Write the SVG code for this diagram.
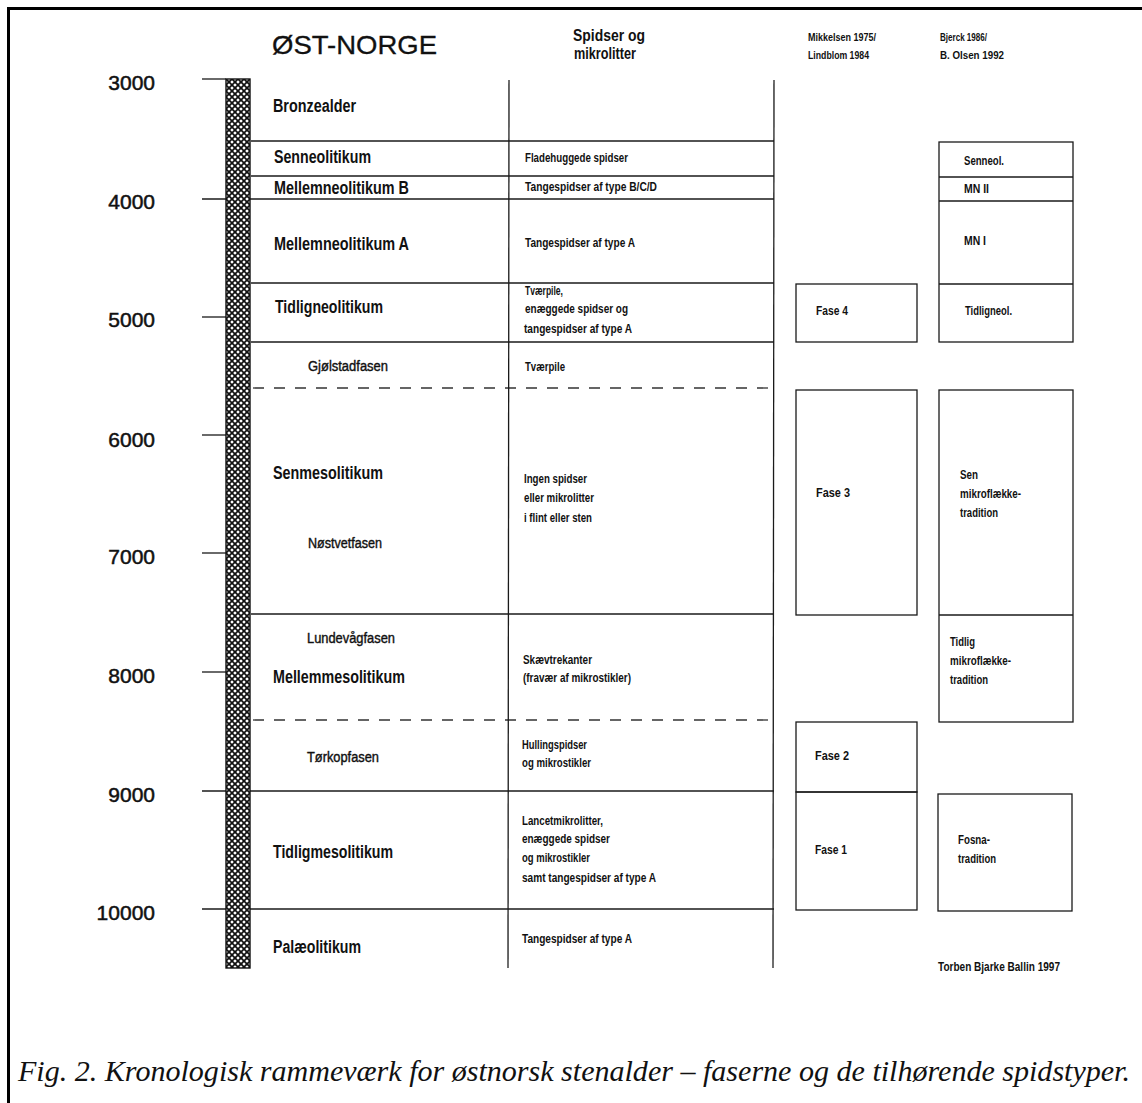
<svg xmlns="http://www.w3.org/2000/svg" width="1142" height="1103" viewBox="0 0 1142 1103">
<defs>
<pattern id="hatch" x="226" y="79" width="6" height="6" patternUnits="userSpaceOnUse">
<rect width="6" height="6" fill="#fff"/>
<path d="M-1,-1 L7,7 M7,-1 L-1,7 M-1,5 L1,7 M5,-1 L7,1 M-1,1 L1,-1 M5,7 L7,5" stroke="#111" stroke-width="1.7"/>
</pattern>
</defs>
<style>
.ln{stroke:#1a1a1a;stroke-width:1.3;fill:none}
.dash{stroke:#333;stroke-width:1.3;fill:none;stroke-dasharray:11 10}
.box{stroke:#1a1a1a;stroke-width:1.3;fill:none}
.num{font-family:"Liberation Sans",Arial,sans-serif;font-size:21px;fill:#111;stroke:#111;stroke-width:0.5;text-anchor:end}
.per{font-family:"Liberation Sans Narrow","Liberation Sans",Arial,sans-serif;font-size:17.5px;font-weight:bold;fill:#111}
.sub{font-family:"Liberation Sans Narrow","Liberation Sans",Arial,sans-serif;font-size:14px;fill:#111;stroke:#111;stroke-width:0.4}
.sm{font-family:"Liberation Sans Narrow","Liberation Sans",Arial,sans-serif;font-size:12px;font-weight:bold;fill:#111}
.hd{font-family:"Liberation Sans Narrow","Liberation Sans",Arial,sans-serif;font-size:16px;font-weight:bold;fill:#111}
.hs{font-family:"Liberation Sans Narrow","Liberation Sans",Arial,sans-serif;font-size:10.5px;font-weight:bold;fill:#111}
.cap{font-family:"Liberation Serif","Times New Roman",serif;font-size:28.5px;font-style:italic;fill:#111}
</style>
<rect width="1142" height="1103" fill="#fff"/>
<path d="M8.5,1103 V8.5 H1142" stroke="#000" stroke-width="3" fill="none"/>

<g id="headers">
<text x="272" y="54" font-family="Liberation Sans,Arial,sans-serif" font-size="26" fill="#111" stroke="#111" stroke-width="0.3" textLength="165" lengthAdjust="spacingAndGlyphs">ØST-NORGE</text>
<text class="hd" x="573" y="41" textLength="72" lengthAdjust="spacingAndGlyphs">Spidser og</text>
<text class="hd" x="574" y="59" textLength="62" lengthAdjust="spacingAndGlyphs">mikrolitter</text>
<text class="hs" x="808" y="41" textLength="68" lengthAdjust="spacingAndGlyphs">Mikkelsen 1975/</text>
<text class="hs" x="808" y="59" textLength="61" lengthAdjust="spacingAndGlyphs">Lindblom 1984</text>
<text class="hs" x="940" y="41" textLength="47" lengthAdjust="spacingAndGlyphs">Bjerck 1986/</text>
<text class="hs" x="940" y="59" textLength="64" lengthAdjust="spacingAndGlyphs">B. Olsen 1992</text>
</g>

<g id="scale">
<text class="num" x="155" y="90">3000</text>
<text class="num" x="155" y="209">4000</text>
<text class="num" x="155" y="327">5000</text>
<text class="num" x="155" y="447">6000</text>
<text class="num" x="155" y="564">7000</text>
<text class="num" x="155" y="683">8000</text>
<text class="num" x="155" y="802">9000</text>
<text class="num" x="155" y="920">10000</text>
</g>

<g id="connectors">
<line class="ln" x1="202" y1="79" x2="226" y2="79"/>
<line class="ln" x1="202" y1="317" x2="226" y2="317"/>
<line class="ln" x1="202" y1="435" x2="226" y2="435"/>
<line class="ln" x1="202" y1="553" x2="226" y2="553"/>
<line class="ln" x1="202" y1="672" x2="226" y2="672"/>
<line class="ln" x1="202" y1="199" x2="774" y2="199"/>
<line class="ln" x1="202" y1="791" x2="774" y2="791"/>
<line class="ln" x1="202" y1="909" x2="774" y2="909"/>
<line class="ln" x1="251" y1="141" x2="774" y2="141"/>
<line class="ln" x1="251" y1="176" x2="774" y2="176"/>
<line class="ln" x1="251" y1="283" x2="774" y2="283"/>
<line class="ln" x1="251" y1="342" x2="774" y2="342"/>
<line class="ln" x1="251" y1="614" x2="774" y2="614"/>
<line class="dash" x1="253" y1="388" x2="774" y2="388"/>
<line class="dash" x1="253" y1="720" x2="774" y2="720"/>
<line class="ln" x1="509" y1="80" x2="508" y2="968"/>
<line class="ln" x1="774" y1="80" x2="773" y2="968"/>
</g>

<g id="timebar">
<rect x="226" y="79" width="24" height="889" fill="url(#hatch)" stroke="#111" stroke-width="1.4"/>
</g>

<g id="periods">
<text class="per" x="273" y="112" textLength="83" lengthAdjust="spacingAndGlyphs">Bronzealder</text>
<text class="per" x="274" y="163" textLength="97" lengthAdjust="spacingAndGlyphs">Senneolitikum</text>
<text class="per" x="274" y="194" textLength="135" lengthAdjust="spacingAndGlyphs">Mellemneolitikum B</text>
<text class="per" x="274" y="250" textLength="135" lengthAdjust="spacingAndGlyphs">Mellemneolitikum A</text>
<text class="per" x="275" y="313" textLength="108" lengthAdjust="spacingAndGlyphs">Tidligneolitikum</text>
<text class="sub" x="308" y="371" textLength="80" lengthAdjust="spacingAndGlyphs">Gjølstadfasen</text>
<text class="per" x="273" y="479" textLength="110" lengthAdjust="spacingAndGlyphs">Senmesolitikum</text>
<text class="sub" x="308" y="548" textLength="74" lengthAdjust="spacingAndGlyphs">Nøstvetfasen</text>
<text class="sub" x="307" y="643" textLength="88" lengthAdjust="spacingAndGlyphs">Lundevågfasen</text>
<text class="per" x="273" y="683" textLength="132" lengthAdjust="spacingAndGlyphs">Mellemmesolitikum</text>
<text class="sub" x="307" y="762" textLength="72" lengthAdjust="spacingAndGlyphs">Tørkopfasen</text>
<text class="per" x="273" y="858" textLength="120" lengthAdjust="spacingAndGlyphs">Tidligmesolitikum</text>
<text class="per" x="273" y="953" textLength="88" lengthAdjust="spacingAndGlyphs">Palæolitikum</text>
</g>

<g id="spidser">
<text class="sm" x="525" y="162" textLength="103" lengthAdjust="spacingAndGlyphs">Fladehuggede spidser</text>
<text class="sm" x="525" y="191" textLength="132" lengthAdjust="spacingAndGlyphs">Tangespidser af type B/C/D</text>
<text class="sm" x="525" y="247" textLength="110" lengthAdjust="spacingAndGlyphs">Tangespidser af type A</text>
<text class="sm" x="525" y="295" textLength="38" lengthAdjust="spacingAndGlyphs">Tværpile,</text>
<text class="sm" x="525" y="313" textLength="103" lengthAdjust="spacingAndGlyphs">enæggede spidser og</text>
<text class="sm" x="524" y="333" textLength="108" lengthAdjust="spacingAndGlyphs">tangespidser af type A</text>
<text class="sm" x="525" y="371" textLength="40" lengthAdjust="spacingAndGlyphs">Tværpile</text>
<text class="sm" x="524" y="483" textLength="63" lengthAdjust="spacingAndGlyphs">Ingen spidser</text>
<text class="sm" x="524" y="502" textLength="70" lengthAdjust="spacingAndGlyphs">eller mikrolitter</text>
<text class="sm" x="524" y="522" textLength="68" lengthAdjust="spacingAndGlyphs">i flint eller sten</text>
<text class="sm" x="523" y="664" textLength="69" lengthAdjust="spacingAndGlyphs">Skævtrekanter</text>
<text class="sm" x="523" y="682" textLength="108" lengthAdjust="spacingAndGlyphs">(fravær af mikrostikler)</text>
<text class="sm" x="522" y="749" textLength="65" lengthAdjust="spacingAndGlyphs">Hullingspidser</text>
<text class="sm" x="522" y="767" textLength="69" lengthAdjust="spacingAndGlyphs">og mikrostikler</text>
<text class="sm" x="522" y="825" textLength="81" lengthAdjust="spacingAndGlyphs">Lancetmikrolitter,</text>
<text class="sm" x="522" y="843" textLength="88" lengthAdjust="spacingAndGlyphs">enæggede spidser</text>
<text class="sm" x="522" y="862" textLength="68" lengthAdjust="spacingAndGlyphs">og mikrostikler</text>
<text class="sm" x="522" y="882" textLength="134" lengthAdjust="spacingAndGlyphs">samt tangespidser af type A</text>
<text class="sm" x="522" y="943" textLength="110" lengthAdjust="spacingAndGlyphs">Tangespidser af type A</text>
</g>

<g id="fase4"><rect class="box" x="796" y="284" width="121" height="58"/><text class="sm" x="816" y="315" textLength="32" lengthAdjust="spacingAndGlyphs">Fase 4</text></g>
<g id="fase3"><rect class="box" x="796" y="390" width="121" height="225"/><text class="sm" x="816" y="497" textLength="34" lengthAdjust="spacingAndGlyphs">Fase 3</text></g>
<g id="fase2"><rect class="box" x="796" y="722" width="121" height="70"/><text class="sm" x="815" y="760" textLength="34" lengthAdjust="spacingAndGlyphs">Fase 2</text></g>
<g id="fase1"><rect class="box" x="796" y="792" width="121" height="118"/><text class="sm" x="815" y="854" textLength="32" lengthAdjust="spacingAndGlyphs">Fase 1</text></g>

<g id="bjerck-neolitikum">
<rect class="box" x="939" y="142" width="134" height="200"/>
<line class="ln" x1="939" y1="177" x2="1073" y2="177"/>
<line class="ln" x1="939" y1="201" x2="1073" y2="201"/>
<line class="ln" x1="939" y1="284" x2="1073" y2="284"/>
<text class="sm" x="964" y="165" textLength="40" lengthAdjust="spacingAndGlyphs">Senneol.</text>
<text class="sm" x="964" y="193" textLength="25" lengthAdjust="spacingAndGlyphs">MN II</text>
<text class="sm" x="964" y="245" textLength="22" lengthAdjust="spacingAndGlyphs">MN I</text>
<text class="sm" x="965" y="315" textLength="47" lengthAdjust="spacingAndGlyphs">Tidligneol.</text>
</g>
<g id="bjerck-mikroflaekke">
<rect class="box" x="939" y="390" width="134" height="332"/>
<line class="ln" x1="939" y1="615" x2="1073" y2="615"/>
<text class="sm" x="960" y="479" textLength="18" lengthAdjust="spacingAndGlyphs">Sen</text>
<text class="sm" x="960" y="498" textLength="61" lengthAdjust="spacingAndGlyphs">mikroflække-</text>
<text class="sm" x="960" y="517" textLength="38" lengthAdjust="spacingAndGlyphs">tradition</text>
<text class="sm" x="950" y="646" textLength="25" lengthAdjust="spacingAndGlyphs">Tidlig</text>
<text class="sm" x="950" y="665" textLength="61" lengthAdjust="spacingAndGlyphs">mikroflække-</text>
<text class="sm" x="950" y="684" textLength="38" lengthAdjust="spacingAndGlyphs">tradition</text>
</g>
<g id="bjerck-fosna">
<rect class="box" x="938" y="794" width="134" height="117"/>
<text class="sm" x="958" y="844" textLength="32" lengthAdjust="spacingAndGlyphs">Fosna-</text>
<text class="sm" x="958" y="863" textLength="38" lengthAdjust="spacingAndGlyphs">tradition</text>
</g>

<g id="credit">
<text class="sm" x="938" y="971" textLength="122" lengthAdjust="spacingAndGlyphs">Torben Bjarke Ballin 1997</text>
</g>

<g id="caption">
<text class="cap" x="18" y="1081" textLength="1112" lengthAdjust="spacingAndGlyphs">Fig. 2. Kronologisk rammeværk for østnorsk stenalder – faserne og de tilhørende spidstyper.</text>
</g>
</svg>
